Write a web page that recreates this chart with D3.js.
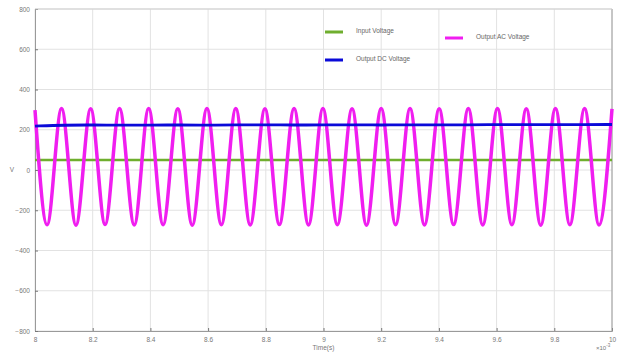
<!DOCTYPE html>
<html>
<head>
<meta charset="utf-8">
<script src="https://cdn.jsdelivr.net/npm/d3@7"></script>
<style>
  html, body { margin: 0; padding: 0; background: #fff; }
  svg { display: block; font-family: "Liberation Sans", Arial, sans-serif; }
</style>
</head>
<body>
<svg id="chart" width="617" height="353"></svg>
<script>
// x axis values (x 10^-3 s)
var xTicks = [8, 8.2, 8.4, 8.6, 8.8, 9, 9.2, 9.4, 9.6, 9.8, 10];
var yTicks = [-800, -600, -400, -200, 0, 200, 400, 600, 800];

// input voltage (flat)
var inTime = [8, 8.5, 9, 9.5, 10];
var inValue = [50, 50, 50, 50, 50];

// output dc voltage, read every 0.1
var dcTime = [8, 8.1, 8.2, 8.3, 8.4, 8.5, 8.6, 8.7, 8.8, 8.9, 9, 9.1, 9.2, 9.3, 9.4, 9.5, 9.6, 9.7, 9.8, 9.9, 10];
var dcValue = [218, 223, 224, 222, 223, 224, 222, 224, 225, 223, 224, 225, 223, 225, 224, 224, 226, 225, 225, 226, 226];

// output ac voltage: start/end + peaks and troughs
var acEnds = [[8, 298], [10, 304]];
var acPeakTime = [8.092, 8.193, 8.293, 8.394, 8.495, 8.596, 8.696, 8.797, 8.898, 8.998,
                  9.099, 9.200, 9.300, 9.401, 9.502, 9.603, 9.703, 9.804, 9.905];
var acPeakValue = [305, 304, 306, 305, 304, 306, 305, 304, 306, 305,
                   304, 306, 305, 304, 306, 305, 304, 306, 305];
var acTroughTime = [8.042, 8.142, 8.243, 8.344, 8.444, 8.545, 8.646, 8.746, 8.847, 8.948,
                    9.048, 9.149, 9.250, 9.350, 9.451, 9.552, 9.653, 9.753, 9.854, 9.955];
var acTroughValue = [-272, -274, -271, -273, -272, -274, -272, -273, -271, -273,
                     -272, -274, -272, -273, -271, -273, -272, -274, -272, -273];

var legendItems = [
  {name: 'Input Voltage', color: '#6fae2e', x: 325, y: 32},
  {name: 'Output DC Voltage', color: '#0a0ad8', x: 325, y: 60},
  {name: 'Output AC Voltage', color: '#f01ef0', x: 445, y: 38}
];

var width = 617, height = 353;
var margin = {left: 35, right: 5, top: 9, bottom: 22};

var svg = d3.select('#chart');

var x = d3.scaleLinear().domain([8, 10]).range([margin.left, width - margin.right]);
var y = d3.scaleLinear().domain([-800, 800]).range([height - margin.bottom, margin.top]);

// grid
var grid = svg.append('g').attr('class', 'grid');
grid.selectAll('line.v').data(xTicks).enter().append('line')
  .attr('x1', function(d){ return x(d); })
  .attr('x2', function(d){ return x(d); })
  .attr('y1', y(-800)).attr('y2', y(800))
  .attr('stroke', '#e2e2e2').attr('stroke-width', 1);
grid.selectAll('line.h').data(yTicks).enter().append('line')
  .attr('y1', function(d){ return y(d); })
  .attr('y2', function(d){ return y(d); })
  .attr('x1', x(8)).attr('x2', x(10))
  .attr('stroke', '#e2e2e2').attr('stroke-width', 1);

// axes
var xAxis = d3.axisBottom(x).tickValues(xTicks).tickSize(-3).tickPadding(6)
  .tickFormat(function(d){ return d3.format('~g')(d); });
var yAxis = d3.axisLeft(y).tickValues(yTicks).tickSize(-3).tickPadding(5);

var gx = svg.append('g').attr('transform', 'translate(0,' + y(-800) + ')').call(xAxis);
var gy = svg.append('g').attr('transform', 'translate(' + x(8) + ',0)').call(yAxis);
[gx, gy].forEach(function(g){
  g.select('.domain').attr('stroke', '#9a9a9a');
  g.selectAll('.tick line').attr('stroke', '#777');
  g.selectAll('.tick text').attr('fill', '#777').attr('font-size', 6.5)
    .attr('font-family', '"Liberation Sans", Arial, sans-serif');
});

// right and top border
svg.append('line').attr('x1', x(10)).attr('x2', x(10)).attr('y1', y(800)).attr('y2', y(-800))
  .attr('stroke', '#9a9a9a');
svg.append('line').attr('x1', x(8)).attr('x2', x(10)).attr('y1', y(800)).attr('y2', y(800))
  .attr('stroke', '#cfcfcf');

// labels
svg.append('text').attr('x', (x(8) + x(10)) / 2).attr('y', 350)
  .attr('text-anchor', 'middle').attr('font-size', 6.5).attr('fill', '#777').text('Time(s)');
svg.append('text').attr('x', 12).attr('y', y(0) + 2)
  .attr('text-anchor', 'middle').attr('font-size', 6.5).attr('fill', '#777').text('V');
var expo = svg.append('text').attr('x', 596).attr('y', 350)
  .attr('font-size', 6).attr('fill', '#777');
expo.append('tspan').text('\u00d710');
expo.append('tspan').attr('dy', -3).attr('font-size', 4.5).text('-3');

// lines
var line = d3.line()
  .x(function(d){ return x(d[0]); })
  .y(function(d){ return y(d[1]); });

var inData = inTime.map(function(t, i){ return [t, inValue[i]]; });
var dcData = dcTime.map(function(t, i){ return [t, dcValue[i]]; });
var acData = acEnds
  .concat(acPeakTime.map(function(t, i){ return [t, acPeakValue[i]]; }))
  .concat(acTroughTime.map(function(t, i){ return [t, acTroughValue[i]]; }))
  .sort(function(a, b){ return a[0] - b[0]; });

svg.append('path').datum(inData)
  .attr('fill', 'none').attr('stroke', '#6fae2e').attr('stroke-width', 2.4)
  .attr('d', line);
svg.append('path').datum(acData)
  .attr('fill', 'none').attr('stroke', '#f01ef0').attr('stroke-width', 3.5)
  .attr('d', line.curve(d3.curveMonotoneX)(acData));
svg.append('path').datum(dcData)
  .attr('fill', 'none').attr('stroke', '#0a0ad8').attr('stroke-width', 2.8)
  .attr('d', d3.line().x(function(d){ return x(d[0]); }).y(function(d){ return y(d[1]); })
    .curve(d3.curveBasis));

// legend
var lg = svg.append('g').selectAll('g').data(legendItems).enter().append('g')
  .attr('transform', function(d){ return 'translate(' + d.x + ',' + d.y + ')'; });
lg.append('line').attr('x1', 0).attr('x2', 18).attr('y1', 0).attr('y2', 0)
  .attr('stroke', function(d){ return d.color; }).attr('stroke-width', 3);
lg.append('text').attr('x', 31).attr('y', 1).attr('font-size', 6.5).attr('fill', '#666')
  .text(function(d){ return d.name; });
</script>
</body>
</html>
